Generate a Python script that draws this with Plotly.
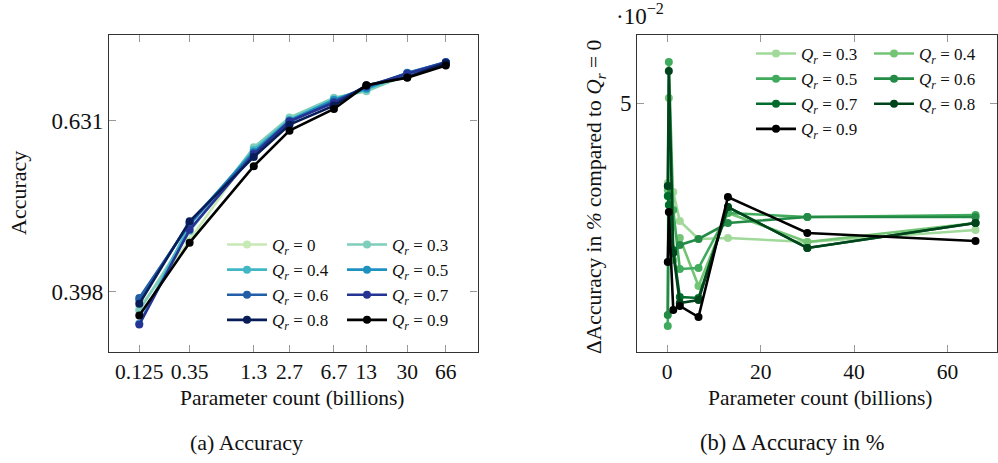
import plotly.graph_objects as go

W, H = 998, 463

# Model sizes (billions of parameters)
params = [0.125, 0.35, 1.3, 2.7, 6.7, 13, 30, 66]
size_ticks = ["0.125", "0.35", "1.3", "2.7", "6.7", "13", "30", "66"]

# Accuracy per Q_r setting
acc_q0 = [0.381, 0.457, 0.584, 0.634, 0.668, 0.689, 0.713, 0.736]
acc_q03 = [0.378, 0.468, 0.587, 0.636, 0.671, 0.683, 0.714, 0.737]
acc_q04 = [0.365, 0.476, 0.583, 0.632, 0.668, 0.687, 0.716, 0.737]
acc_q05 = [0.389, 0.479, 0.580, 0.631, 0.667, 0.688, 0.718, 0.738]
acc_q06 = [0.391, 0.478, 0.578, 0.629, 0.664, 0.691, 0.717, 0.739]
acc_q07 = [0.364, 0.470, 0.576, 0.630, 0.662, 0.692, 0.716, 0.738]
acc_q08 = [0.385, 0.481, 0.572, 0.624, 0.657, 0.694, 0.709, 0.737]
acc_q09 = [0.373, 0.454, 0.558, 0.614, 0.651, 0.694, 0.708, 0.732]

# Change in accuracy (%) relative to Q_r = 0
d_q03 = [0.0340, 0.0312, 0.0322, 0.0264, 0.0228, 0.0230, 0.0222, 0.0246]
d_q04 = [0.0326, 0.0510, 0.0186, 0.0230, 0.0134, 0.0280, 0.0222, 0.0260]
d_q05 = [0.0054, 0.0582, 0.0286, 0.0168, 0.0170, 0.0280, 0.0272, 0.0276]
d_q06 = [0.0076, 0.0334, 0.0202, 0.0216, 0.0228, 0.0260, 0.0272, 0.0272]
d_q07 = [0.0314, 0.0296, 0.0206, 0.0112, 0.0110, 0.0292, 0.0210, 0.0260]
d_q08 = [0.0334, 0.0564, 0.0200, 0.0100, 0.0106, 0.0292, 0.0210, 0.0260]
d_q09 = [0.0182, 0.0282, 0.0086, 0.0094, 0.0072, 0.0312, 0.0240, 0.0224]

acc_series = [("0", acc_q0), ("0.3", acc_q03), ("0.4", acc_q04), ("0.5", acc_q05),
              ("0.6", acc_q06), ("0.7", acc_q07), ("0.8", acc_q08), ("0.9", acc_q09)]
acc_colors = ["#c7e9b4", "#7fcdbb", "#41b6c4", "#1d91c0", "#225ea8", "#253494", "#081d58", "#000000"]

delta_series = [("0.3", d_q03), ("0.4", d_q04), ("0.5", d_q05), ("0.6", d_q06),
                ("0.7", d_q07), ("0.8", d_q08), ("0.9", d_q09)]
delta_colors = ["#a1d99b", "#74c476", "#41ab5d", "#238b45", "#006d2c", "#00441b", "#000000"]

FONT = "Times New Roman, Liberation Serif, DejaVu Serif, serif"


def px(x):
    return x / W


def py(y):
    return 1 - y / H


def qlabel(v):
    return f"<i>Q</i><sub><i>r</i></sub> = {v}"


fig = go.Figure()

# left panel: two legend columns
for i, ((q, vals), col) in enumerate(zip(acc_series, acc_colors)):
    fig.add_trace(go.Scatter(
        x=params, y=vals, mode="lines+markers", name=qlabel(q),
        line=dict(color=col, width=2.6), marker=dict(color=col, size=8),
        xaxis="x", yaxis="y", legend="legend" if i % 2 == 0 else "legend2",
    ))

# right panel: two legend columns
for i, ((q, vals), col) in enumerate(zip(delta_series, delta_colors)):
    fig.add_trace(go.Scatter(
        x=params, y=vals, mode="lines+markers", name=qlabel(q),
        line=dict(color=col, width=2.6), marker=dict(color=col, size=8),
        xaxis="x2", yaxis="y2", legend="legend3" if i % 2 == 0 else "legend4",
    ))

axis_common = dict(
    showline=True, linecolor="#333333", linewidth=1.3, mirror="ticks",
    ticks="inside", ticklen=7, tickcolor="#999999", tickwidth=1,
    showgrid=False, zeroline=False, automargin=False,
)
xtick_font = dict(family=FONT, size=21.5, color="#111111")
ytick_font = dict(family=FONT, size=23, color="#111111")

lx0, lx1 = px(109), px(477.5)
rx0, rx1 = px(637.3), px(997)
y0, y1 = py(352), py(35)

fig.update_layout(
    width=W, height=H,
    margin=dict(l=0, r=0, t=0, b=0),
    paper_bgcolor="white", plot_bgcolor="white",
    font=dict(family=FONT, size=19, color="#111111"),
    xaxis=dict(domain=[lx0, lx1], type="log", range=[-1.172, 2.101],
               tickvals=params, ticktext=size_ticks, anchor="y",
               tickfont=xtick_font, **axis_common),
    yaxis=dict(domain=[y0, y1], type="log", range=[-0.471, -0.0998],
               tickvals=[0.398, 0.631], ticktext=["0.398", "0.631"], anchor="x",
               tickfont=ytick_font, **axis_common),
    xaxis2=dict(domain=[rx0, rx1], range=[-6.4, 70.6],
                tickvals=[0, 20, 40, 60], anchor="y2",
                tickfont=xtick_font, **axis_common),
    yaxis2=dict(domain=[y0, y1], range=[0.0002, 0.0636],
                tickvals=[0.05], ticktext=["5"], anchor="x2",
                tickfont=ytick_font, **axis_common),
    showlegend=True,
)

leg_common = dict(bgcolor="rgba(0,0,0,0)", borderwidth=0,
                  font=dict(family=FONT, size=17, color="#111111"),
                  xanchor="left", yanchor="top", tracegroupgap=0,
                  itemwidth=40)
fig.update_layout(
    legend=dict(x=px(222), y=py(227), **leg_common),
    legend2=dict(x=px(342), y=py(227), **leg_common),
    legend3=dict(x=px(751), y=py(36), **leg_common),
    legend4=dict(x=px(869), y=py(36), **leg_common),
)

ann = [
    dict(text="Accuracy", x=px(18), y=py(193), textangle=-90, size=22),
    dict(text="Parameter count (billions)", x=px(292), y=py(398), size=21.5),
    dict(text="Parameter count (billions)", x=px(820), y=py(398), size=21.5),
    dict(text="(a) Accuracy", x=px(246), y=py(442), size=22),
    dict(text="(b) Δ Accuracy in %", x=px(792), y=py(442), size=22.5),
    dict(text="ΔAccuracy in <i>%</i> compared to <i>Q</i><sub><i>r</i></sub> = 0",
         x=px(596), y=py(197), textangle=-90, size=21.5),
    dict(text="·10<sup>−2</sup>", x=px(640), y=py(15), size=23),
]
for a in ann:
    fig.add_annotation(text=a["text"], x=a["x"], y=a["y"], xref="paper", yref="paper",
                       showarrow=False, textangle=a.get("textangle", 0),
                       xanchor="center", yanchor="middle",
                       font=dict(family=FONT, size=a["size"], color="#111111"))

fig.write_html("out.html")
